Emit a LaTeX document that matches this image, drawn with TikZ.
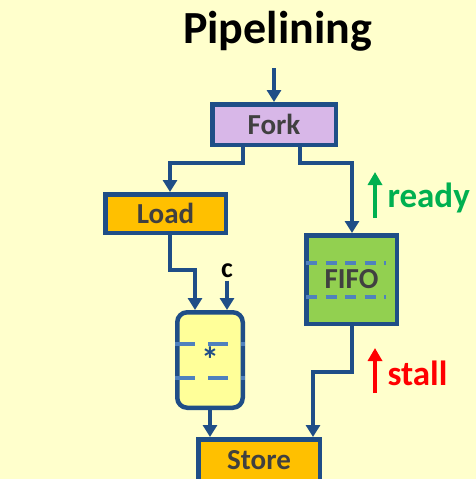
\documentclass[tikz,border=0pt]{standalone}
\usepackage{fontspec}
\setmainfont{Carlito}
\usetikzlibrary{arrows.meta,calc}
\definecolor{bgc}{RGB}{255,255,204}
\definecolor{linec}{RGB}{31,78,135}
\definecolor{dashc}{RGB}{79,129,189}
\definecolor{forkc}{RGB}{216,183,232}
\definecolor{orangec}{RGB}{255,192,0}
\definecolor{multc}{RGB}{255,255,153}
\definecolor{fifoc}{RGB}{146,208,80}
\definecolor{txtc}{RGB}{64,64,64}
\definecolor{readyc}{RGB}{0,176,80}
\definecolor{stallc}{RGB}{255,0,0}
\begin{document}
\begin{tikzpicture}[x=1pt,y=-1pt,
  box/.style={draw=linec, line width=4.5pt, inner sep=0pt, text=txtc,
    font=\fontsize{29}{31}\selectfont\bfseries},
  conn/.style={draw=linec, line width=4.5pt, line join=miter,
    -{Triangle[width=14pt,length=12pt]}},
  dashln/.style={draw=dashc, line width=4pt, dash pattern=on 20pt off 13pt},
  fdash/.style={draw=dashc, line width=3.5pt, dash pattern=on 11pt off 8.5pt},
  sig/.style={line width=4.5pt, -{Triangle[width=14pt,length=13pt]}},
]
\useasboundingbox[fill=bgc] (0,0) rectangle (476,479);

\node[font=\fontsize{46}{50}\selectfont\bfseries, anchor=base] (title) at (277.5,43) {Pipelining};

\node[box, fill=forkc, minimum width=123.5pt, minimum height=40.5pt] (fork) at (274,124.5) {Fork};
\node[box, fill=orangec, minimum width=120.5pt, minimum height=38.5pt] (load) at (165.5,213.5) {Load};
\node[box, fill=multc, rounded corners=10pt, minimum width=65.5pt, minimum height=95.5pt, text=linec,
  font=\fontsize{36}{38}\selectfont\bfseries] (mult) at (210,360) {\raisebox{-7pt}{*}};
\node[box, fill=fifoc, minimum width=90.5pt, minimum height=88.5pt] (fifo) at (351.5,279.5) {FIFO};
\node[box, fill=orangec, minimum width=121.5pt, minimum height=41.5pt] (store) at (259,460) {Store};

\draw[dashln] (175,344) -- (245,344);
\draw[dashln] (175,378) -- (245,378);
\draw[fdash] (306,263) -- (386,263);
\draw[fdash] (306,297) -- (386,297);

\node[font=\fontsize{28}{30}\selectfont\bfseries, anchor=base] (c) at (227,277) {c};
\node[font=\fontsize{35}{37}\selectfont\bfseries, text=readyc, anchor=base west] (ready) at (384,207) {ready};
\node[font=\fontsize{35}{37}\selectfont\bfseries, text=stallc, anchor=base west] (stall) at (384,385) {stall};

\coordinate (in) at (274,68);
\coordinate (a1) at (243,163);
\coordinate (fl) at (170,163);
\coordinate (a2) at (300,163);
\coordinate (fr) at (352,163);
\coordinate (lb) at (170,270);
\coordinate (lm) at (195,270);
\coordinate (fb) at (352,372);
\coordinate (fs) at (313,372);
\coordinate (r1) at (375,218);
\coordinate (r2) at (375,172);
\coordinate (s1) at (375,393);
\coordinate (s2) at (375,348);

\draw[conn] (in) -- (fork.north);
\draw[conn] (fork.south -| a1) -- (a1) -- (fl) -- (load.north -| fl);
\draw[conn] (fork.south -| a2) -- (a2) -- (fr) -- (fifo.north -| fr);
\draw[conn] (load.south -| lb) -- (lb) -- (lm) -- (mult.north -| lm);
\draw[conn] (c.south) -- (mult.north -| c);
\draw[conn] (mult.south) -- (store.north -| mult.south);
\draw[conn] (fifo.south -| fb) -- (fb) -- (fs) -- (store.north -| fs);

\draw[sig, readyc] (r1) -- (r2);
\draw[sig, stallc] (s1) -- (s2);
\end{tikzpicture}
\end{document}
